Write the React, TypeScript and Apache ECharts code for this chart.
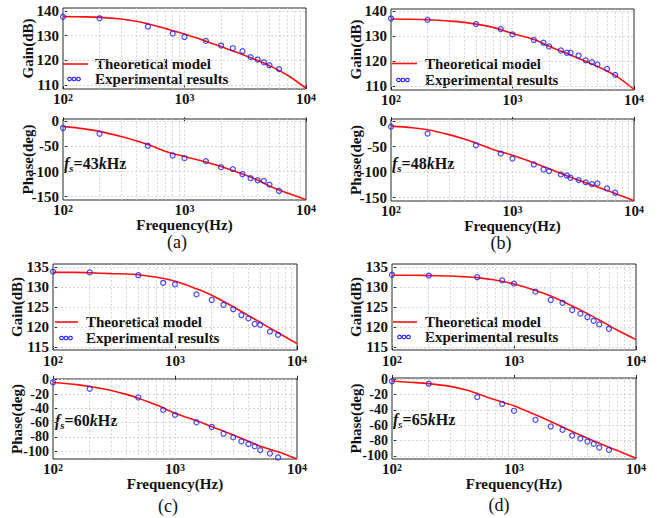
import React, { useEffect, useRef } from 'react';
import * as echarts from 'echarts';

// ---------------- data ----------------
const freqTheory = [100, 150, 200, 300, 400, 500, 700, 1000, 1500, 2000, 3000, 4000, 5000, 7000, 10000];

const gainTheoryA = [137.8, 137.7, 137.5, 136.8, 135.9, 134.9, 132.9, 130.7, 127.8, 125.6, 122.4, 119.9, 117.8, 114.0, 108.6];
const phaseTheoryA = [-10, -15, -20, -30, -38.5, -46, -60, -70, -81, -90, -105, -117, -129, -143, -156];
const gainTheoryB = [136.8, 136.7, 136.5, 136.0, 135.5, 134.8, 133.4, 131.1, 128.7, 126.0, 122.5, 120.0, 118.0, 114.4, 108.8];
const phaseTheoryB = [-10, -13, -17, -26.6, -35, -43, -56, -67, -82, -93.5, -110, -121, -129, -141.6, -156];
const gainTheoryC = [133.7, 133.7, 133.6, 133.4, 133.3, 133.1, 132.5, 131.5, 129.6, 128.0, 125.1, 122.9, 121.2, 118.6, 115.9];
const phaseTheoryC = [-3.8, -6.5, -9.4, -15, -20.5, -25.8, -35.2, -47, -57.3, -65.7, -77.5, -86, -93, -101, -111];
const gainTheoryD = [133.0, 133.0, 132.9, 132.8, 132.6, 132.4, 131.8, 130.8, 129.2, 127.8, 125.3, 123.4, 121.8, 119.3, 116.9];
const phaseTheoryD = [-3, -4.5, -6, -9.6, -14, -19, -27, -34.8, -46.5, -55.2, -68.3, -77, -83.5, -93, -103];

const freqA = [100, 200, 500, 800, 1000, 1500, 2000, 2500, 3000, 3500, 4000, 4500, 5000, 6000];
const gainA = [137.7, 137.1, 133.7, 130.9, 129.5, 127.9, 126.0, 124.9, 123.7, 121.3, 120.3, 119.2, 118.0, 116.4];
const phaseA = [-13.3, -24.7, -48.7, -68, -73.3, -79.3, -91.3, -95.3, -105.3, -113.3, -117.3, -118.7, -126, -138.7];

const freqB = [100, 200, 500, 800, 1000, 1500, 1800, 2000, 2500, 2800, 3000, 3500, 4000, 4500, 5000, 6000, 7000];
const gainB = [137.0, 136.5, 134.8, 132.8, 130.7, 128.5, 127.4, 125.9, 124.3, 123.4, 123.4, 122.3, 120.4, 119.7, 118.7, 117.0, 114.6];
const phaseB = [-11, -24.7, -47.4, -63.6, -73.4, -85, -94.8, -98, -104.5, -106.5, -111, -115.6, -120, -123.4, -122, -131.8, -140.3];

const freqC = [100, 200, 500, 800, 1000, 1500, 2000, 2500, 3000, 3500, 4000, 4500, 5000, 6000, 7000];
const gainC = [133.9, 133.7, 133.0, 131.1, 130.7, 128.2, 126.8, 125.6, 124.5, 123.0, 122.2, 120.8, 120.6, 118.9, 118.1];
const phaseC = [-3.8, -12.7, -24.9, -42.3, -49.3, -59.6, -66.2, -75.6, -80.8, -86.4, -90.1, -93.4, -98.6, -103.3, -108.9];

const freqD = [100, 200, 500, 800, 1000, 1500, 2000, 2500, 3000, 3500, 4000, 4500, 5000, 6000];
const gainD = [133.1, 132.9, 132.5, 131.7, 130.9, 128.9, 126.8, 126.1, 124.3, 123.4, 122.5, 121.6, 120.7, 119.6];
const phaseD = [-3, -6.1, -23.5, -32.2, -41.3, -53, -61.7, -66, -73.5, -77.4, -81.3, -84.3, -89.1, -92.2];

const gainTicksAB = [110, 120, 130, 140];
const phaseTicksAB = [-150, -100, -50, 0];
const gainTicksCD = [115, 120, 125, 130, 135];
const phaseTicksCD = [-100, -80, -60, -40, -20, 0];
const gridFreqs = [200, 300, 400, 500, 600, 700, 800, 900, 1000, 2000, 3000, 4000, 5000, 6000, 7000, 8000, 9000];

const fsValues = ['43', '48', '60', '65'];
const panelLabels = ['(a)', '(b)', '(c)', '(d)'];
const legendNames = ['Theoretical model', 'Experimental results'];

// ---------------- layout / style ----------------
const FONT = '"Liberation Serif","Times New Roman",serif';
const RED = '#ff1010';
const BLUE = '#1a1aff';
const TXT = '#111111';

const pairs = (xs: number[], ys: number[]) => xs.map((x, i) => [x, ys[i]]);

const subplots = [
  { grid: { left: 63, top: 8, width: 243, height: 81 }, min: 108.3, max: 141.3, ticks: gainTicksAB, name: 'Gain(dB)', theory: gainTheoryA, freq: freqA, exp: gainA, xName: '', lf: 15, gap: 28, ng: 17, xm: 3 },
  { grid: { left: 63, top: 119, width: 243, height: 81 }, min: -156.7, max: 4.7, ticks: phaseTicksAB, name: 'Phase(deg)', theory: phaseTheoryA, freq: freqA, exp: phaseA, xName: 'Frequency(Hz)', lf: 15, gap: 28, ng: 17, xm: 3 },
  { grid: { left: 391, top: 9, width: 243, height: 81 }, min: 108.6, max: 140.8, ticks: gainTicksAB, name: 'Gain(dB)', theory: gainTheoryB, freq: freqB, exp: gainB, xName: '', lf: 15, gap: 28, ng: 17, xm: 3 },
  { grid: { left: 391, top: 119, width: 243, height: 82 }, min: -156.5, max: 4, ticks: phaseTicksAB, name: 'Phase(deg)', theory: phaseTheoryB, freq: freqB, exp: phaseB, xName: 'Frequency(Hz)', lf: 15, gap: 28, ng: 17, xm: 3 },
  { grid: { left: 53, top: 264, width: 244, height: 86 }, min: 114.3, max: 135.8, ticks: gainTicksCD, name: 'Gain(dB)', theory: gainTheoryC, freq: freqC, exp: gainC, xName: '', lf: 15, gap: 29, ng: 17, xm: 4 },
  { grid: { left: 53, top: 379, width: 244, height: 80 }, min: -111, max: 1, ticks: phaseTicksCD, name: 'Phase(deg)', theory: phaseTheoryC, freq: freqC, exp: phaseC, xName: 'Frequency(Hz)', lf: 14, gap: 29, ng: 17, xm: 3 },
  { grid: { left: 392, top: 264, width: 244, height: 86 }, min: 114.3, max: 135.8, ticks: gainTicksCD, name: 'Gain(dB)', theory: gainTheoryD, freq: freqD, exp: gainD, xName: '', lf: 15, gap: 29, ng: 17, xm: 4 },
  { grid: { left: 392, top: 378, width: 244, height: 81 }, min: -104, max: 1.3, ticks: phaseTicksCD, name: 'Phase(deg)', theory: phaseTheoryD, freq: freqD, exp: phaseD, xName: 'Frequency(Hz)', lf: 14, gap: 29, ng: 17, xm: 3 },
];

const legendPos = [
  { lx0: 63, lx1: 88, y1: 64, tx: 95, cx: [69.5, 74, 78.5], y2: 79 },
  { lx0: 392, lx1: 417, y1: 63.5, tx: 425, cx: [398.5, 403, 407.5], y2: 80 },
  { lx0: 55, lx1: 78, y1: 322, tx: 86, cx: [61.5, 66, 70.5], y2: 338 },
  { lx0: 393, lx1: 417, y1: 322, tx: 425, cx: [399.5, 404, 408.5], y2: 337 },
];
const fsPos = [
  { x: 64, y: 163 },
  { x: 392, y: 163 },
  { x: 55, y: 420 },
  { x: 393, y: 419 },
];
const labelPos = [
  { x: 177, y: 242 },
  { x: 501, y: 243 },
  { x: 168, y: 506 },
  { x: 499, y: 505 },
];

function buildOption() {
  const grids = subplots.map((s) => ({
    ...s.grid,
    show: true,
    borderColor: '#262626',
    borderWidth: 1,
    backgroundColor: '#ffffff',
    containLabel: false,
  }));

  const xAxes = subplots.map((s, i) => ({
    gridIndex: i,
    type: 'log',
    logBase: 10,
    min: 100,
    max: 10000,
    axisLine: { show: false },
    axisTick: { show: true, inside: true, length: 4, lineStyle: { color: '#262626' } },
    splitLine: { show: false },
    axisLabel: {
      margin: s.xm,
      showMinLabel: true,
      showMaxLabel: true,
      formatter: (v: number) => `{b|10}{s|${Math.round(Math.log10(v))}}`,
      rich: {
        b: { fontSize: 15, fontWeight: 'bold', fontFamily: FONT, color: TXT, lineHeight: 14 },
        s: { fontSize: 10, fontWeight: 'bold', fontFamily: FONT, color: TXT, lineHeight: 6, verticalAlign: 'top' },
      },
    },
    name: s.xName,
    nameLocation: 'middle',
    nameGap: s.ng,
    nameMoveOverlap: false,
    nameTextStyle: { fontSize: 15, fontWeight: 'bold', fontFamily: FONT, color: TXT, verticalAlign: 'top', lineHeight: 15 },
  }));

  const yAxes = subplots.map((s, i) => ({
    gridIndex: i,
    type: 'value',
    min: s.min,
    max: s.max,
    axisLine: { show: false },
    axisTick: { show: true, inside: true, length: 4, customValues: s.ticks, lineStyle: { color: '#262626' } },
    splitLine: { show: false },
    axisLabel: {
      customValues: s.ticks,
      showMinLabel: true,
      showMaxLabel: true,
      hideOverlap: false,
      margin: 4,
      fontSize: s.lf,
      lineHeight: 8,
      fontWeight: 'bold',
      fontFamily: FONT,
      color: TXT,
    },
    name: s.name,
    nameLocation: 'middle',
    nameGap: s.gap,
    nameMoveOverlap: false,
    nameTextStyle: { fontSize: 15, fontWeight: 'bold', fontFamily: FONT, color: TXT },
  }));

  const series: any[] = [];
  subplots.forEach((s, i) => {
    series.push({
      name: legendNames[0],
      type: 'line',
      xAxisIndex: i,
      yAxisIndex: i,
      data: pairs(freqTheory, s.theory),
      smooth: 0.35,
      symbol: 'none',
      lineStyle: { color: RED, width: 1.6 },
      z: 3,
      markLine: {
        silent: true,
        symbol: 'none',
        z: 1,
        animation: false,
        label: { show: false },
        emphasis: { disabled: true },
        lineStyle: { color: '#cdcdcd', type: [2, 2], width: 0.8 },
        data: [
          ...gridFreqs.map((f) => ({ xAxis: f })),
          ...s.ticks.map((t) => ({ yAxis: t })),
        ],
      },
    });
    series.push({
      name: legendNames[1],
      type: 'scatter',
      xAxisIndex: i,
      yAxisIndex: i,
      data: pairs(s.freq, s.exp),
      symbol: 'circle',
      symbolSize: 5,
      itemStyle: { color: 'rgba(0,0,0,0)', borderColor: BLUE, borderWidth: 1.2 },
      z: 4,
    });
  });

  const graphic: any[] = [];
  legendPos.forEach((p) => {
    graphic.push({ type: 'line', shape: { x1: p.lx0, y1: p.y1, x2: p.lx1, y2: p.y1 }, style: { stroke: RED, lineWidth: 1.6 } });
    graphic.push({ type: 'text', x: p.tx, y: p.y1, style: { text: legendNames[0], fontSize: 15, fontWeight: 'bold', fontFamily: FONT, fill: TXT, align: 'left', verticalAlign: 'middle' } });
    p.cx.forEach((cx) => {
      graphic.push({ type: 'circle', shape: { cx, cy: p.y2, r: 1.8 }, style: { fill: 'none', stroke: BLUE, lineWidth: 1.1 } });
    });
    graphic.push({ type: 'text', x: p.tx, y: p.y2, style: { text: legendNames[1], fontSize: 15, fontWeight: 'bold', fontFamily: FONT, fill: TXT, align: 'left', verticalAlign: 'middle' } });
  });
  fsPos.forEach((p, i) => {
    graphic.push({
      type: 'text',
      x: p.x,
      y: p.y,
      style: {
        text: `{i|f}{sub|s}{n|=${fsValues[i]}}{i|k}{n|Hz}`,
        align: 'left',
        verticalAlign: 'middle',
        rich: {
          i: { fontSize: 16, fontWeight: 'bold', fontStyle: 'italic', fontFamily: FONT, fill: TXT, lineHeight: 20 },
          n: { fontSize: 16, fontWeight: 'bold', fontFamily: FONT, fill: TXT, lineHeight: 20 },
          sub: { fontSize: 11, fontWeight: 'bold', fontStyle: 'italic', fontFamily: FONT, fill: TXT, lineHeight: 12, verticalAlign: 'bottom' },
        },
      },
    });
  });
  labelPos.forEach((p, i) => {
    graphic.push({ type: 'text', x: p.x, y: p.y, style: { text: panelLabels[i], fontSize: 18, lineHeight: 18, fontFamily: FONT, fill: TXT, align: 'center', verticalAlign: 'middle' } });
  });

  return {
    animation: false,
    backgroundColor: '#ffffff',
    grid: grids,
    xAxis: xAxes,
    yAxis: yAxes,
    series,
    graphic,
  };
}

export default function App() {
  const ref = useRef<HTMLDivElement>(null);
  useEffect(() => {
    if (!ref.current) return;
    const chart = echarts.init(ref.current, null, { renderer: 'svg' });
    chart.setOption(buildOption() as any);
    return () => chart.dispose();
  }, []);
  return (
    <div
      ref={ref}
      style={{ position: 'fixed', left: 0, top: 0, width: 665, height: 518, background: '#ffffff' }}
    />
  );
}
